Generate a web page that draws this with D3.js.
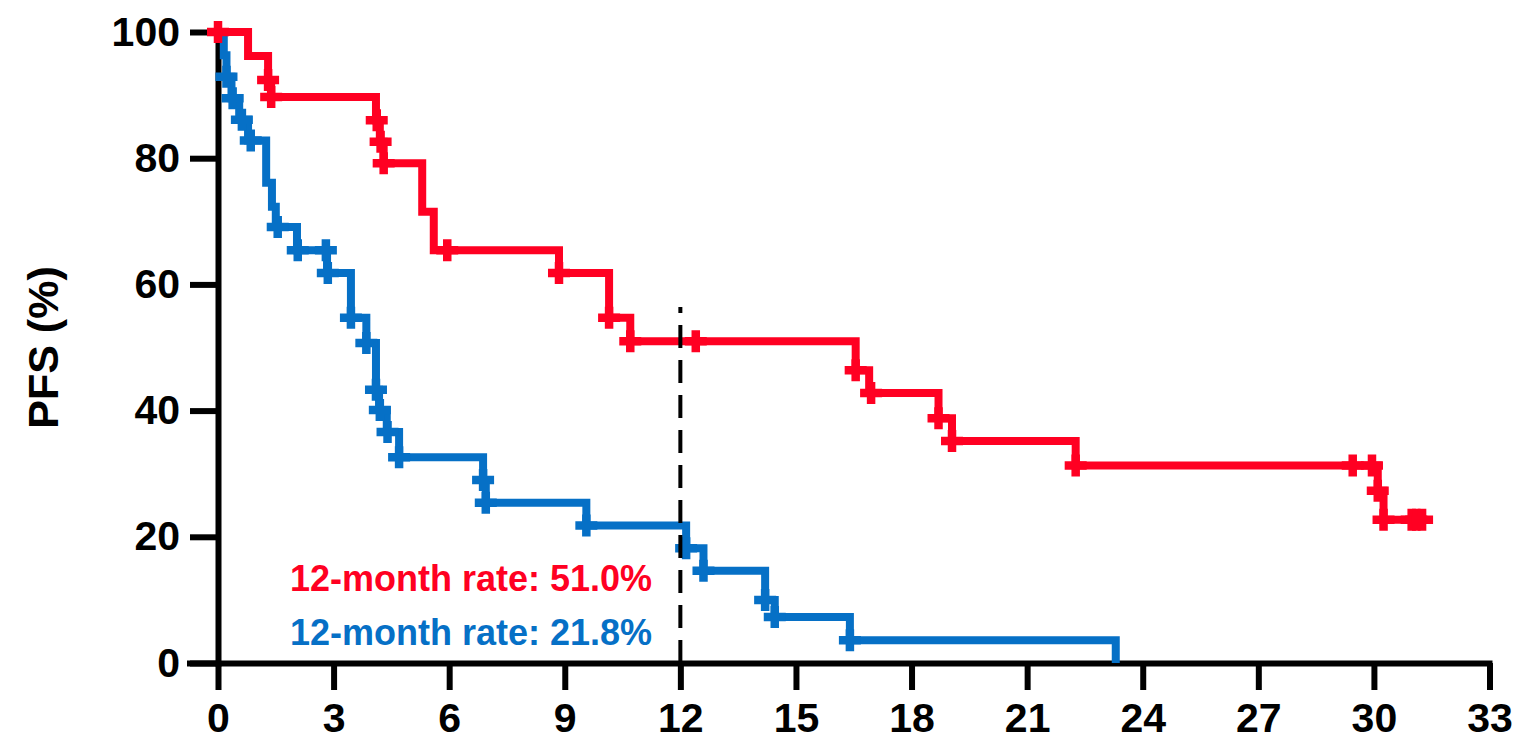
<!DOCTYPE html>
<html>
<head>
<meta charset="utf-8">
<script src="https://cdn.jsdelivr.net/npm/d3@7"></script>
<style>
  html, body { margin: 0; padding: 0; background: #ffffff; }
  svg { display: block; }
</style>
</head>
<body>
<svg id="chart" width="1522" height="751"></svg>
<script>
// ---- data ----
const xTicks = [0, 3, 6, 9, 12, 15, 18, 21, 24, 27, 30, 33];
const yTicks = [0, 20, 40, 60, 80, 100];
const yTitle = "PFS (%)";

const redStepTimes = [0, 0.78, 1.3, 1.38, 4.1, 4.2, 4.3, 5.3, 5.6, 8.85, 10.15, 10.7, 16.55, 16.9, 18.7, 19.05, 22.26, 30.1, 30.25, 31.25];
const redStepSurv  = [100, 96.2, 92.4, 89.7, 86.0, 82.6, 79.2, 71.5, 65.4, 61.8, 54.7, 51.0, 46.4, 42.8, 38.8, 35.2, 31.3, 27.3, 22.7, 22.7];
const redCensorTimes = [0, 1.3, 1.38, 4.12, 4.22, 4.3, 5.95, 8.85, 10.15, 10.7, 12.4, 16.55, 16.95, 18.7, 19.05, 22.26, 29.45, 29.95, 30.1, 30.25, 30.98, 31.1, 31.25];
const redCensorSurv  = [100, 92.4, 89.7, 86.0, 82.6, 79.2, 65.4, 61.8, 54.7, 51.0, 51.0, 46.4, 42.8, 38.8, 35.2, 31.3, 31.3, 31.3, 27.3, 22.7, 22.7, 22.7, 22.7];

const blueStepTimes = [0, 0.15, 0.22, 0.35, 0.55, 0.78, 1.25, 1.4, 1.5, 2.05, 2.83, 3.45, 3.85, 4.1, 4.18, 4.38, 4.7, 6.88, 6.95, 9.56, 12.15, 12.6, 14.2, 14.45, 16.4, 23.3];
const blueStepSurv  = [100, 96.3, 92.9, 89.5, 86.1, 82.8, 76.1, 72.3, 69.1, 65.4, 61.8, 54.7, 50.7, 43.3, 40.1, 36.6, 32.6, 29.0, 25.4, 21.8, 18.2, 14.6, 10.0, 7.3, 3.6, 0];
const blueCensorTimes = [0.22, 0.38, 0.62, 0.85, 1.55, 2.07, 2.8, 2.85, 3.45, 3.85, 4.1, 4.2, 4.4, 4.7, 6.88, 6.95, 9.56, 12.15, 12.6, 14.2, 14.45, 16.4];
const blueCensorSurv  = [92.9, 89.5, 86.1, 82.8, 69.1, 65.4, 65.4, 61.8, 54.7, 50.7, 43.3, 40.1, 36.6, 32.6, 29.0, 25.4, 21.8, 18.2, 14.6, 10.0, 7.3, 3.6];

const landmarkTime = 12;
const annotations = ["12-month rate: 51.0%", "12-month rate: 21.8%"];

const RED = "#ff0022";
const BLUE = "#0670c6";

// ---- scales ----
const svg = d3.select("#chart");
svg.append("rect").attr("width", 1522).attr("height", 751).attr("fill", "#fff");

const x = d3.scaleLinear().domain([0, 33]).range([218, 1489.5]);
const y = d3.scaleLinear().domain([0, 100]).range([663, 32]);

const FONT = "'Liberation Sans', Arial, sans-serif";

// ---- axes ----
const yAxis = d3.axisLeft(y).tickValues(yTicks).tickSize(28).tickSizeOuter(0).tickPadding(10);
const gy = svg.append("g").attr("transform", `translate(${x(0)},0)`).call(yAxis);
const xAxis = d3.axisBottom(x).tickValues(xTicks).tickSize(27).tickSizeOuter(0).tickPadding(13);
const gx = svg.append("g").attr("transform", `translate(0,${y(0)})`).call(xAxis);

[gx, gy].forEach(g => {
  g.select(".domain").attr("stroke", "#000").attr("stroke-width", 6).attr("stroke-linecap", "square");
  g.selectAll(".tick line").attr("stroke", "#000").attr("stroke-width", 6);
  g.selectAll(".tick text").attr("fill", "#000").attr("font-family", FONT)
    .attr("font-weight", "bold").attr("font-size", 41);
});
// extend x domain line to the left end of the y ticks
gx.select(".domain").attr("d", `M${x(0) - 28},0.5H${x(33)}`);

// y title
svg.append("text")
  .attr("transform", `translate(58,${(y(0) + y(100)) / 2}) rotate(-90)`)
  .attr("text-anchor", "middle")
  .attr("font-family", FONT).attr("font-weight", "bold").attr("font-size", 43)
  .attr("fill", "#000")
  .text(yTitle);

// ---- curves ----
const line = d3.line().curve(d3.curveStepAfter).x(d => x(d[0])).y(d => y(d[1]));

function drawCurve(times, surv, cTimes, cSurv, color) {
  const pts = times.map((t, i) => [t, surv[i]]);
  svg.append("path").datum(pts).attr("d", line)
    .attr("fill", "none").attr("stroke", color).attr("stroke-width", 8)
    .attr("stroke-linejoin", "miter").attr("stroke-linecap", "butt");
  const cens = cTimes.map((t, i) => [t, cSurv[i]]);
  const g = svg.append("g");
  g.selectAll("path").data(cens).join("path")
    .attr("d", d => {
      const cx = x(d[0]), cy = y(d[1]);
      return `M${cx - 11},${cy}H${cx + 11}M${cx},${cy - 11}V${cy + 11}`;
    })
    .attr("stroke", color).attr("stroke-width", 8.5).attr("fill", "none");
}

drawCurve(blueStepTimes, blueStepSurv, blueCensorTimes, blueCensorSurv, BLUE);
drawCurve(redStepTimes, redStepSurv, redCensorTimes, redCensorSurv, RED);

// ---- landmark dashed line ----
svg.append("line")
  .attr("x1", x(landmarkTime)).attr("x2", x(landmarkTime))
  .attr("y1", y(0)).attr("y2", 307)
  .attr("stroke", "#000").attr("stroke-width", 4)
  .attr("stroke-dasharray", "23,12");

// ---- annotations ----
svg.append("text").attr("x", 290).attr("y", 591)
  .attr("font-family", FONT).attr("font-weight", "bold").attr("font-size", 36)
  .attr("fill", RED).text(annotations[0]);
svg.append("text").attr("x", 290).attr("y", 645)
  .attr("font-family", FONT).attr("font-weight", "bold").attr("font-size", 36)
  .attr("fill", BLUE).text(annotations[1]);
</script>
</body>
</html>
